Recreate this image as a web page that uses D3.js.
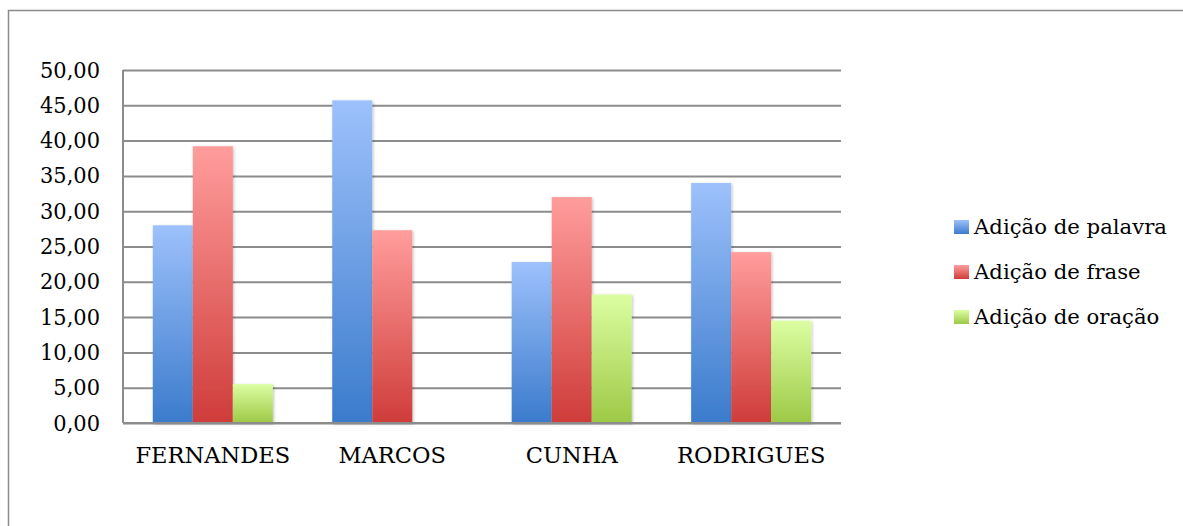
<!DOCTYPE html>
<html>
<head>
<meta charset="utf-8">
<script src="https://cdn.jsdelivr.net/npm/d3@7"></script>
<style>
  body { margin: 0; background: #fff; }
  .serif { font-family: "DejaVu Serif", "Liberation Serif", serif; font-size: 22px; }
  .legend-text { font-size: 20px; }
</style>
</head>
<body>
<div id="chart"></div>
<script>
// data
const categories = ["FERNANDES", "MARCOS", "CUNHA", "RODRIGUES"];
const seriesNames = ["Adição de palavra", "Adição de frase", "Adição de oração"];
const palavra = [28.0, 45.7, 22.8, 34.0];
const frase = [39.2, 27.3, 32.0, 24.2];
const oracao = [5.5, 0, 18.2, 14.5];
const yTicks = [0, 5, 10, 15, 20, 25, 30, 35, 40, 45, 50];

const seriesValues = [palavra, frase, oracao];
const gradColors = [
  ["#9dc1fb", "#3b7bcc"],
  ["#ff9d9c", "#cf3c3a"],
  ["#dcfea2", "#9dc946"]
];

// squeeze the wide serif horizontally so a group takes the room of the original Times text
function condense(sel, refNode, refWidth) {
  const k = refNode ? refWidth / refNode.getComputedTextLength() : 1;
  sel.each(function () {
    const t = d3.select(this);
    const x = +t.attr("x") || 0;
    t.attr("transform", `translate(${x},0) scale(${k},1) translate(${-x},0)`);
  });
}

function drawChart(cWidth, cHeight) {
  const margin = { left: 123, top: 70, right: cWidth - 841, bottom: cHeight - 423 },
    w = cWidth - margin.left - margin.right,
    h = cHeight - margin.top - margin.bottom;

  const svg = d3
    .select("#chart")
    .append("svg")
    .attr("width", cWidth)
    .attr("height", cHeight)
    .style("display", "block");

  const defs = svg.append("defs");
  gradColors.forEach((c, i) => {
    const g = defs
      .append("linearGradient")
      .attr("id", "grad" + i)
      .attr("x1", 0).attr("y1", 0).attr("x2", 0).attr("y2", 1);
    g.append("stop").attr("offset", "0%").attr("stop-color", c[0]);
    g.append("stop").attr("offset", "100%").attr("stop-color", c[1]);
  });
  const shadow = defs.append("filter").attr("id", "shadow")
    .attr("x", "-20%").attr("y", "-10%").attr("width", "140%").attr("height", "120%");
  shadow.append("feDropShadow")
    .attr("dx", 1).attr("dy", 1).attr("stdDeviation", 1.5)
    .attr("flood-color", "#000").attr("flood-opacity", 0.25);

  // outer frame
  svg.append("rect")
    .attr("x", 8.5).attr("y", 10.5)
    .attr("width", 1300).attr("height", 700)
    .attr("fill", "none").attr("stroke", "#8c8c8c").attr("stroke-width", 1.5);

  const svgG = svg.append("g")
    .attr("transform", `translate(${margin.left}, ${margin.top})`);

  const x0 = d3.scaleBand()
    .domain(categories)
    .range([0, w])
    .paddingInner(0.331)
    .paddingOuter(0.166);
  const x1 = d3.scaleBand()
    .domain(d3.range(seriesNames.length))
    .range([0, x0.bandwidth()]);
  const y = d3.scaleLinear().domain([0, 50]).range([h, 0]);

  // grid + y labels
  const yAxis = svgG.append("g")
    .call(d3.axisLeft(y).tickValues(yTicks).tickSize(-w).tickPadding(23)
      .tickFormat(d => d3.format(".2f")(d).replace(".", ",")));
  yAxis.attr("font-family", null).attr("font-size", null);
  yAxis.select(".domain").remove();
  yAxis.selectAll(".tick line").attr("stroke", "#8c8c8c").attr("stroke-width", 2);
  yAxis.selectAll(".tick text").attr("fill", "#000").attr("class", "serif");

  // bars
  seriesValues.forEach((vals, i) => {
    svgG.append("g")
      .selectAll("rect")
      .data(vals.map((v, k) => ({ cat: categories[k], v })))
      .enter()
      .filter(d => d.v > 0)
      .append("rect")
      .attr("x", d => x0(d.cat) + x1(i))
      .attr("y", d => y(d.v))
      .attr("width", x1.bandwidth())
      .attr("height", d => h - y(d.v))
      .attr("fill", `url(#grad${i})`)
      .attr("filter", "url(#shadow)");
  });

  // axis lines
  svgG.append("line")
    .attr("x1", 0).attr("x2", 0).attr("y1", 0).attr("y2", h)
    .attr("stroke", "#8c8c8c").attr("stroke-width", 2);
  svgG.append("line")
    .attr("x1", 0).attr("x2", w).attr("y1", h).attr("y2", h)
    .attr("stroke", "#8c8c8c").attr("stroke-width", 2);

  // category labels
  const xAxis = svgG.append("g")
    .attr("transform", `translate(0, ${h})`)
    .call(d3.axisBottom(x0).tickSize(0).tickPadding(24));
  xAxis.attr("font-family", null).attr("font-size", null);
  xAxis.select(".domain").remove();
  xAxis.selectAll(".tick text").attr("fill", "#000").attr("class", "serif");

  // legend
  const legend = svg.append("g").attr("transform", "translate(954, 227)");
  seriesNames.forEach((name, i) => {
    const row = legend.append("g").attr("transform", `translate(0, ${i * 45})`);
    row.append("rect")
      .attr("x", 0).attr("y", -7)
      .attr("width", 15).attr("height", 14)
      .attr("fill", `url(#grad${i})`);
    row.append("text")
      .attr("class", "serif legend-text")
      .attr("x", 20).attr("y", 0)
      .attr("dy", "0.35em")
      .text(name);
  });

  // reference widths: "FERNANDES" ~155px, "50,00" ~60px, "Adição de palavra" ~193px
  const xTexts = xAxis.selectAll(".tick text");
  condense(xTexts, xTexts.filter(d => d === categories[0]).node(), 155);
  const yTexts = yAxis.selectAll(".tick text");
  condense(yTexts, yTexts.filter(d => d === 50).node(), 60);
  const lTexts = legend.selectAll("text");
  condense(lTexts, lTexts.node(), 193);
}

drawChart(1183, 526);
</script>
</body>
</html>
